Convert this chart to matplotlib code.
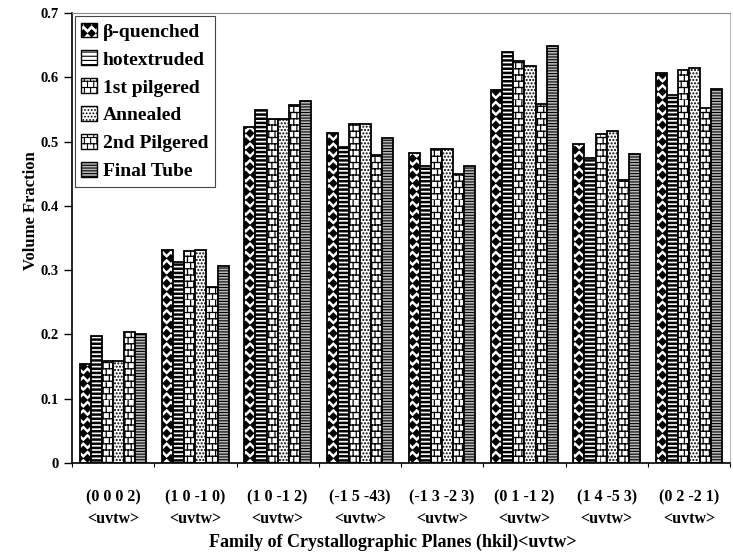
import numpy as np
import matplotlib
matplotlib.use("Agg")
import matplotlib.pyplot as plt
import matplotlib.hatch as mhatch
from matplotlib.path import Path
from matplotlib.patches import Patch


# two extra hatches: 'd' = filled diamonds, 'b' = bricks
class Diamonds(mhatch.Shapes):
    size = 0.42
    filled = True

    def __init__(self, hatch, density):
        self.num_rows = hatch.count('d') * density
        p = Path.unit_regular_polygon(4)
        self.shape_vertices = p.vertices
        self.shape_codes = p.codes
        super().__init__(hatch, density)


class Bricks(mhatch.HatchPatternBase):
    def __init__(self, hatch, density):
        k = hatch.count('b')
        self.n = k * 8
        self.m = k * 8
        self.num_vertices = 2 * self.n + 2 * self.n * self.m if k else 0

    def set_vertices_and_codes(self, vertices, codes):
        n, m = self.n, self.m
        ys = np.arange(n) / n
        vertices[0:2 * n:2] = np.c_[np.zeros(n), ys]
        vertices[1:2 * n:2] = np.c_[np.ones(n), ys]
        i = 2 * n
        for r in range(n):
            for j in range(m):
                x = (j + 0.5 * (r % 2)) / m
                vertices[i] = (x, r / n)
                vertices[i + 1] = (x, (r + 1) / n)
                i += 2
        codes[0::2] = Path.MOVETO
        codes[1::2] = Path.LINETO


mhatch._hatch_types.append(Diamonds)
mhatch._hatch_types.append(Bricks)

planes = ["(0 0 0 2)", "(1 0 -1 0)", "(1 0 -1 2)", "(-1 5 -43)",
          "(-1 3 -2 3)", "(0 1 -1 2)", "(1 4 -5 3)", "(0 2 -2 1)"]
series = ["\u03b2-quenched", "hotextruded", "1st pilgered", "Annealed",
          "2nd Pilgered", "Final Tube"]

b_quenched = [0.154, 0.331, 0.523, 0.513, 0.482, 0.581, 0.496, 0.607]
hotextruded = [0.198, 0.313, 0.549, 0.492, 0.462, 0.640, 0.474, 0.573]
pilgered1 = [0.159, 0.329, 0.535, 0.528, 0.489, 0.626, 0.512, 0.611]
annealed = [0.158, 0.331, 0.535, 0.528, 0.488, 0.617, 0.516, 0.615]
pilgered2 = [0.203, 0.274, 0.557, 0.479, 0.449, 0.558, 0.440, 0.553]
final_tube = [0.200, 0.307, 0.563, 0.506, 0.462, 0.649, 0.481, 0.582]

values = [b_quenched, hotextruded, pilgered1, annealed, pilgered2, final_tube]
hatches = ['dd', '----', 'bb', '.....', 'bb', '------']
faces = ['white', 'white', 'white', 'white', 'white', '#b8b8b8']
hlw = [1.0, 1.8, 0.9, 1.0, 0.9, 0.8]

plt.rcParams['font.family'] = ['Liberation Serif', 'DejaVu Serif']
plt.rcParams['font.weight'] = 'bold'
plt.rcParams['hatch.color'] = 'black'

fig = plt.figure(figsize=(7.33, 5.54), dpi=100)
ax = fig.add_axes([0.0982, 0.1643, 0.8978, 0.8122])

x = np.arange(len(planes))
w = 0.135
for i, v in enumerate(values):
    pos = x - 2.5 * w + i * w
    plt.rcParams['hatch.linewidth'] = hlw[i]
    bars = ax.bar(pos, v, w, color=faces[i], edgecolor='black',
                  hatch=hatches[i], linewidth=1.3, label=series[i])
    for b in bars:
        if hasattr(b, 'set_hatch_linewidth'):
            b.set_hatch_linewidth(hlw[i])

ax.set_xlim(-0.5, len(planes) - 0.5)
ax.set_ylim(0, 0.7)
ax.set_yticks(np.arange(0, 0.71, 0.1))
ax.set_yticklabels(["0"] + ["%.1f" % t for t in np.arange(0.1, 0.71, 0.1)])
ax.set_xticks(x)
ax.set_xticklabels([p + "\n<uvtw>" for p in planes], fontsize=11.5,
                   linespacing=1.5)
ax.set_xticks(np.arange(-0.5, len(planes)), minor=True)
ax.tick_params(axis='x', which='major', length=0, pad=19)
ax.tick_params(axis='x', which='minor', length=3, width=0.8)
ax.tick_params(axis='y', length=6, width=1, labelsize=10.5)

ax.spines['top'].set_color('#888888')
ax.spines['right'].set_color('#bbbbbb')
ax.spines['left'].set_linewidth(1.2)
ax.spines['bottom'].set_linewidth(1.2)

ax.set_ylabel("Volume Fraction", fontsize=12, fontweight='bold')
ax.yaxis.set_label_coords(-0.05, 0.56)
ax.set_xlabel("Family of Crystallographic Planes (hkil)<uvtw>",
              fontsize=13, fontweight='bold')
ax.xaxis.set_label_coords(0.487, -0.158)

handles = []
for i in range(len(series)):
    h = Patch(facecolor=faces[i], edgecolor='black', hatch=hatches[i],
              linewidth=1.0, label=series[i])
    handles.append(h)
leg = ax.legend(handles=handles, loc='upper left',
                bbox_to_anchor=(0.004, 0.994), fontsize=14, fancybox=False,
                edgecolor='#444444', framealpha=1, handlelength=0.8,
                handleheight=0.8, handletextpad=0.3, labelspacing=0.5,
                borderpad=0.35, borderaxespad=0)
leg.get_frame().set_linewidth(0.8)

fig.savefig("out.png", dpi=100)
